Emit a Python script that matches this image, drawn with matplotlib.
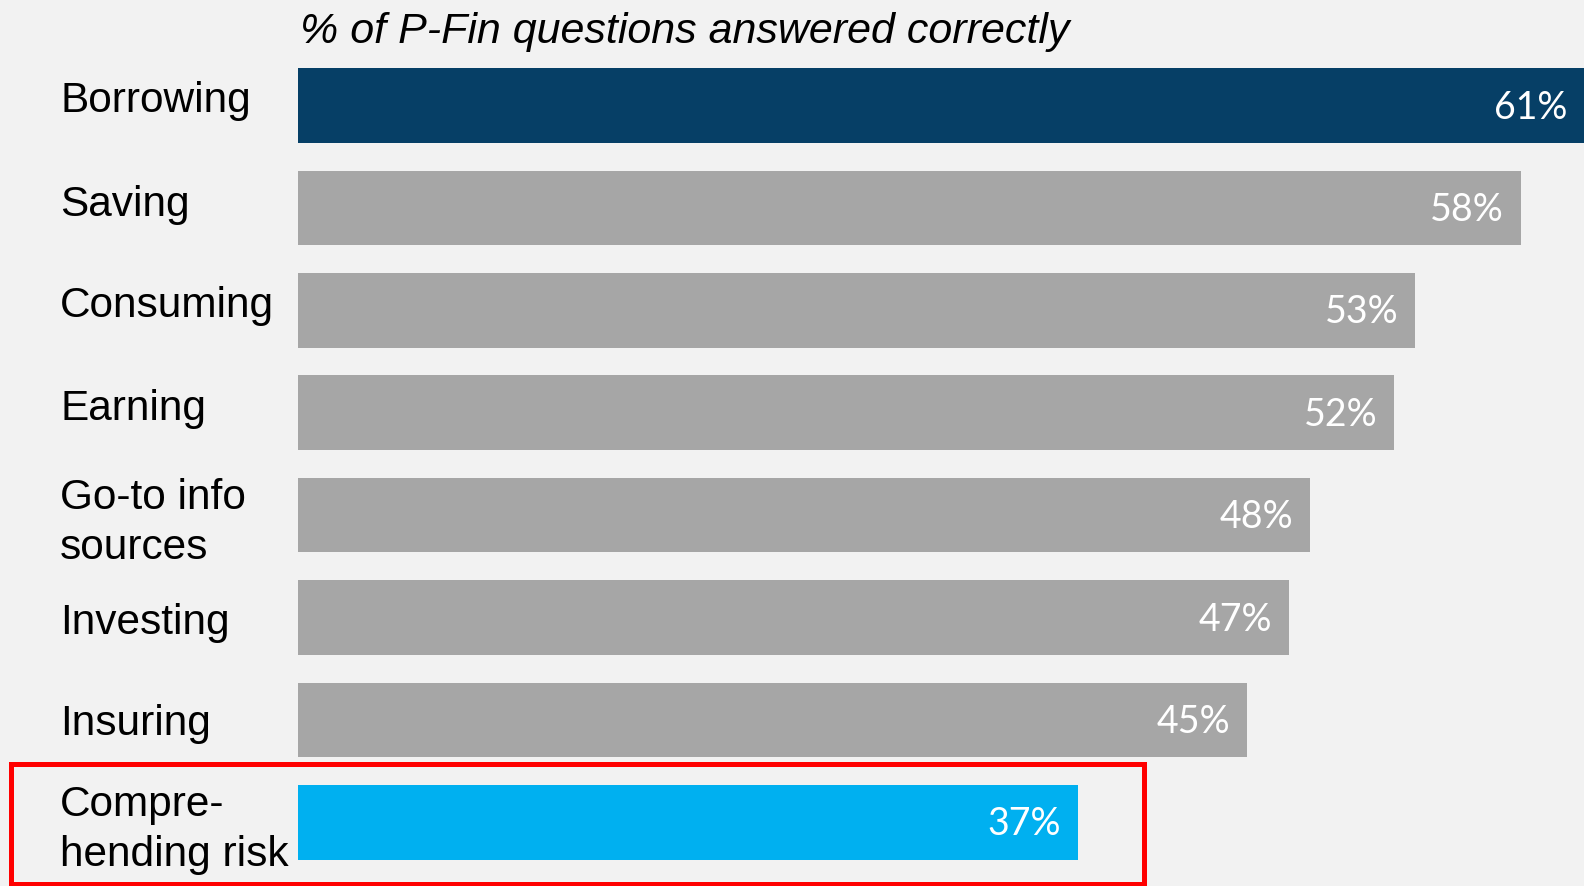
import matplotlib
matplotlib.use("Agg")
import matplotlib.pyplot as plt
from matplotlib.patches import Rectangle

categories = ["Borrowing", "Saving", "Consuming", "Earning",
              "Go-to info\nsources", "Investing", "Insuring", "Compre-\nhending risk"]
values = [61, 58, 53, 52, 48, 47, 45, 37]
value_labels = ["61%", "58%", "53%", "52%", "48%", "47%", "45%", "37%"]
colors = ["#063f66"] + ["#a6a6a6"] * 6 + ["#00b0f0"]
title = "% of P-Fin questions answered correctly"

W, H = 1584, 886
bg = "#f2f2f2"

fig = plt.figure(figsize=(W / 100, H / 100), dpi=100, facecolor=bg)
ax = fig.add_axes([298 / W, 0, 1 - 298 / W, 1])
ax.set_facecolor(bg)

y = list(range(len(values)))
ax.barh(y, values, height=0.727, color=colors)

ax.set_xlim(0, 61)
ax.set_ylim(7.622, -1.030)
ax.axis("off")

# value labels inside bar ends
for i, (v, lab) in enumerate(zip(values, value_labels)):
    ax.annotate(lab, xy=(v, i), xytext=(-12, -1.5), textcoords="offset points",
                ha="right", va="center", color="white",
                fontsize=27, family="Lato")

# category labels on the left (small vertical nudges, in points)
nudge = [3, 2, 3, 3, -5.5, -4, -3, -5.5]
lx = (60 - 298) / (W - 298)
for i, c in enumerate(categories):
    ax.annotate(c, xy=(lx, i), xycoords=ax.get_yaxis_transform(),
                xytext=(0, nudge[i]), textcoords="offset points",
                ha="left", va="center", fontsize=30.5,
                family="Liberation Sans", color="black",
                linespacing=1.32, annotation_clip=False)

fig.text(300 / W, 1 - 43 / H, title, ha="left", va="baseline",
         fontsize=31, style="italic", family="Liberation Sans", color="black")

# red highlight box around the last category
fig.add_artist(Rectangle((11 / W, 2 / H), (1144 - 11) / W, (122 - 2) / H,
                         transform=fig.transFigure, fill=False,
                         edgecolor="#ff0000", linewidth=3.6))

fig.savefig("out.png", dpi=100, facecolor=bg)
